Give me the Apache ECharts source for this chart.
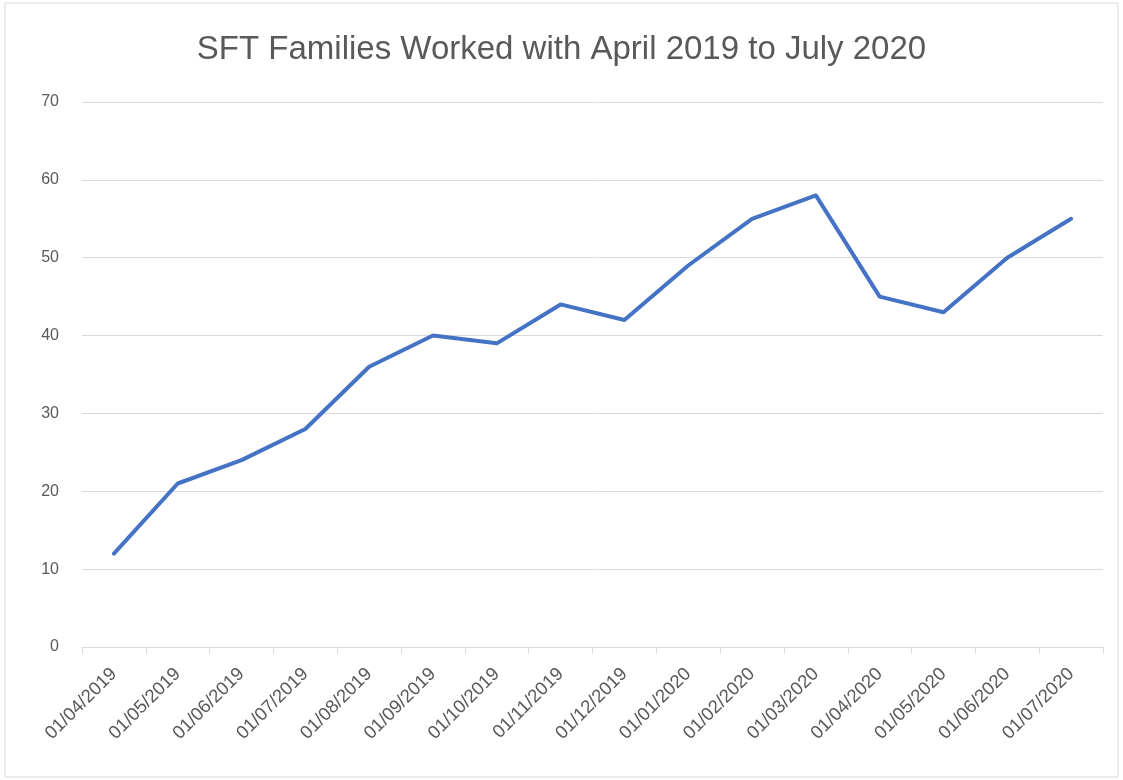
<!DOCTYPE html>
<html><head><meta charset="utf-8">
<script src="https://cdn.jsdelivr.net/npm/echarts@6/dist/echarts.min.js"></script>
<style>html,body{margin:0;padding:0;background:#fff}#c{width:1123px;height:780px}</style>
</head><body><div id="c"></div>
<script>
const titleText = 'SFT Families Worked with April 2019 to July 2020';
const categories = ['01/04/2019','01/05/2019','01/06/2019','01/07/2019','01/08/2019','01/09/2019','01/10/2019','01/11/2019','01/12/2019','01/01/2020','01/02/2020','01/03/2020','01/04/2020','01/05/2020','01/06/2020','01/07/2020'];
const families = [12,21,24,28,36,40,39,44,42,49,55,58,45,43,50,55];
const yMin = 0, yMax = 70, yStep = 10;

const chart = echarts.init(document.getElementById('c'), null, {renderer:'canvas'});
chart.setOption({
  backgroundColor:'#fff',
  animation:false,
  graphic:[{type:'rect',shape:{x:5,y:3,width:1113,height:774},style:{fill:'none',stroke:'#d9d9d9',lineWidth:1}}],
  title:{text:titleText,left:'center',top:28,textStyle:{fontFamily:'Liberation Sans',fontWeight:'normal',fontSize:33,color:'#595959'}},
  grid:{left:82,right:20,top:102,bottom:133,containLabel:false},
  xAxis:{type:'category',data:categories,boundaryGap:true,
    axisLine:{lineStyle:{color:'#d9d9d9',width:1}},
    axisTick:{show:true,length:7,lineStyle:{color:'#d9d9d9'}},
    axisLabel:{rotate:45,color:'#595959',fontSize:18.5,fontFamily:'Liberation Sans',margin:24,interval:0}},
  yAxis:{type:'value',min:yMin,max:yMax,interval:yStep,
    axisLine:{show:false},axisTick:{show:false},
    axisLabel:{color:'#595959',fontSize:16,fontFamily:'Liberation Sans',margin:23},
    splitLine:{lineStyle:{color:'#d9d9d9',width:1}}},
  series:[{type:'line',data:families,symbol:'none',lineStyle:{color:'#4472C4',width:4,cap:'round',join:'round'}}]
});
</script></body></html>
